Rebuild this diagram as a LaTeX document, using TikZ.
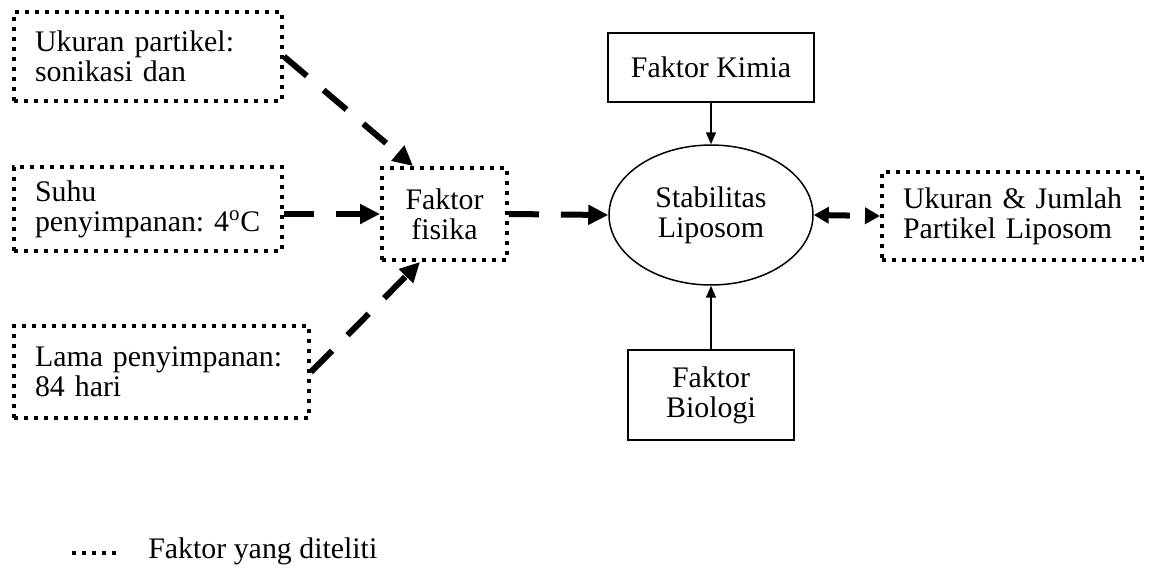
\documentclass[tikz,border=0pt]{standalone}
\usepackage{fontspec}
\setmainfont{Liberation Serif}
\usetikzlibrary{arrows.meta,shapes.geometric}

\begin{document}
\begin{tikzpicture}[x=0.02cm,y=-0.02cm,
  every node/.style={font=\fontsize{17pt}{17pt}\selectfont\frenchspacing},
  titik/.style={draw,line width=0.08cm,dash pattern=on 0.08cm off 0.12cm},
  kotak/.style={titik,align=left,inner xsep=0.42cm,inner ysep=0pt},
  padat/.style={draw,line width=0.03cm},
  panah/.style={line width=0.12cm,dash pattern=on 0.6cm off 0.44cm,-{Triangle[length=0.4cm,width=0.38cm]}},
  tipis/.style={line width=0.03cm,-{Triangle[length=0.24cm,width=0.2cm]}}]

\useasboundingbox (0,0) rectangle (1150,569);

\node[kotak,text width=4.52cm,minimum height=1.78cm] (ukuran) at (148,56.5) {\mbox{Ukuran partikel:}\\\mbox{sonikasi dan}};
\node[kotak,text width=4.52cm,minimum height=1.68cm] (suhu) at (148,209) {\mbox{Suhu}\\\mbox{penyimpanan: 4\textsuperscript{o}C}};
\node[kotak,text width=5.06cm,minimum height=1.84cm] (lama) at (161.5,372) {\mbox{Lama penyimpanan:}\\\mbox{84 hari}};
\node[titik,align=center,minimum width=2.5cm,minimum height=1.84cm] (fisika) at (444.5,214) {Faktor\\fisika};

\node[padat,ellipse,align=center,minimum width=4.08cm,minimum height=2.8cm] (stab) at (711,215) {Stabilitas\\Liposom};
\node[padat,minimum width=4.12cm,minimum height=1.38cm] (kimia) at (711,67.5) {Faktor Kimia};
\node[padat,align=center,minimum width=3.32cm,minimum height=1.8cm] (bio) at (711,395) {Faktor\\Biologi};
\node[kotak,text width=4.36cm,minimum height=1.76cm] (ukjml) at (1012,216) {\mbox{Ukuran \& Jumlah}\\\mbox{Partikel Liposom}};

\draw[panah] (ukuran.east) -- ([xshift=-0.63cm]fisika.north);
\draw[panah] (suhu.east |- fisika.west) -- (fisika.west);
\draw[panah] (lama.east) -- ([xshift=-0.49cm]fisika.south);
\draw[panah] (fisika.east) -- (stab.west);
\draw[panah,dash pattern=on 0.44cm off 0.34cm,{Triangle[length=0.3cm,width=0.32cm]}-{Triangle[length=0.3cm,width=0.32cm]}] (stab.east) -- (ukjml.west);
\draw[tipis] (kimia) -- (stab);
\draw[tipis] (bio) -- (stab);

\coordinate (legA) at (72,553);
\coordinate (legB) at (117,553);
\draw[titik] (legA) -- (legB);
\node[anchor=base west,inner xsep=0pt] (ket) at (148,558) {Faktor yang diteliti};

\end{tikzpicture}
\end{document}
